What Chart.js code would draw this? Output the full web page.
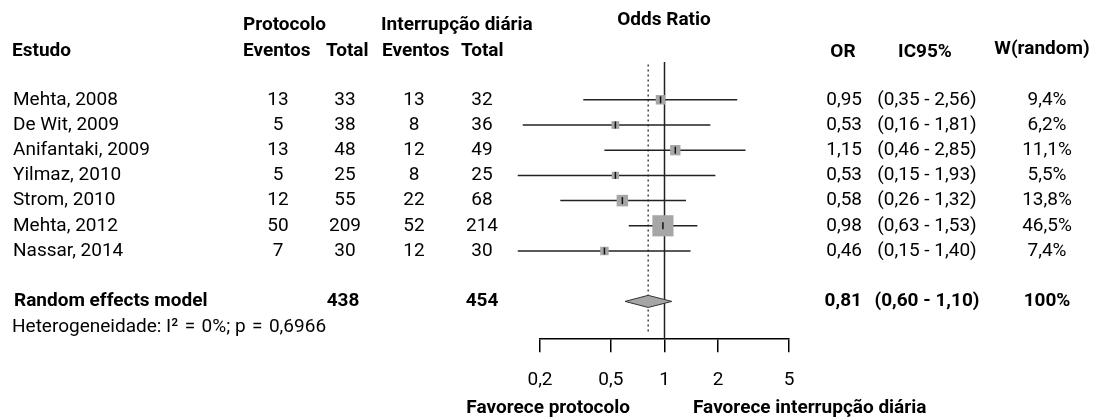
<!DOCTYPE html>
<html>
<head>
<meta charset="utf-8">
<script src="https://cdn.jsdelivr.net/npm/chart.js@4"></script>
<style>
  body { margin: 0; background: #fff; }
  canvas { display: block; }
</style>
</head>
<body>
<canvas id="forest" width="1094" height="420"></canvas>
<script>
const studies = ['Mehta, 2008', 'De Wit, 2009', 'Anifantaki, 2009', 'Yilmaz, 2010', 'Strom, 2010', 'Mehta, 2012', 'Nassar, 2014'];
const protEvents = [13, 5, 13, 5, 12, 50, 7];
const protTotal = [33, 38, 48, 25, 55, 209, 30];
const intEvents = [13, 8, 12, 8, 22, 52, 12];
const intTotal = [32, 36, 49, 25, 68, 214, 30];
const oddsRatio = [0.95, 0.53, 1.15, 0.53, 0.58, 0.98, 0.46];
const ciLow = [0.35, 0.16, 0.46, 0.15, 0.26, 0.63, 0.15];
const ciHigh = [2.56, 1.81, 2.85, 1.93, 1.32, 1.53, 1.40];
const weights = [9.4, 6.2, 11.1, 5.5, 13.8, 46.5, 7.4];

const pooledOR = 0.81;
const pooledLow = 0.60;
const pooledHigh = 1.10;
const pooledWeight = 100;
const totalProt = 438;
const totalInt = 454;
const heterogeneity = 'Heterogeneidade: I\u00B2\u2004=\u20040%; p\u2004=\u20040,6966';

const xTicks = [0.2, 0.5, 1, 2, 5];

const SUMMARY_ROW = 8;
const FONT = "Roboto, 'Liberation Sans', sans-serif";
const SIZE = 19;

const fmt = (v, d) => v.toFixed(d).replace('.', ',');

// one short line per study for the confidence interval
const ciSets = studies.map((s, i) => ({
  type: 'line',
  data: [{ x: ciLow[i], y: i }, { x: ciHigh[i], y: i }],
  borderColor: '#222',
  borderWidth: 1.5,
  pointRadius: 0,
  clip: false,
  order: 3
}));

// text columns around the plot
const tablePlugin = {
  id: 'table',
  afterDraw(chart) {
    const ctx = chart.ctx;
    const y = chart.scales.y;
    ctx.save();
    ctx.fillStyle = '#000';
    ctx.textBaseline = 'middle';

    const put = (txt, x, py, align, bold) => {
      ctx.font = (bold ? '700 ' : '400 ') + SIZE + 'px ' + FONT;
      ctx.textAlign = align;
      ctx.fillText(txt, x, py);
    };

    // headers
    put('Odds Ratio', 664, 20, 'center', true);
    put('Protocolo', 243, 25, 'left', true);
    put('Interrupção diária', 381, 25, 'left', true);
    put('Estudo', 12, 51, 'left', true);
    put('Eventos', 243, 51, 'left', true);
    put('Total', 326, 51, 'left', true);
    put('Eventos', 382, 51, 'left', true);
    put('Total', 461, 51, 'left', true);
    put('OR', 843, 52, 'center', true);
    put('IC95%', 925, 52, 'center', true);
    put('W(random)', 1042, 49, 'center', true);

    studies.forEach((s, i) => {
      const py = y.getPixelForValue(i);
      put(s, 13, py, 'left', false);
      put(String(protEvents[i]), 278, py, 'center', false);
      put(String(protTotal[i]), 345, py, 'center', false);
      put(String(intEvents[i]), 414, py, 'center', false);
      put(String(intTotal[i]), 482, py, 'center', false);
      put(fmt(oddsRatio[i], 2), 862, py, 'right', false);
      put('(' + fmt(ciLow[i], 2) + ' - ' + fmt(ciHigh[i], 2) + ')', 927, py, 'center', false);
      put(fmt(weights[i], 1) + '%', 1047, py, 'center', false);
    });

    const sy = y.getPixelForValue(SUMMARY_ROW);
    put('Random effects model', 14, sy, 'left', true);
    put(String(totalProt), 343, sy, 'center', true);
    put(String(totalInt), 482, sy, 'center', true);
    put(fmt(pooledOR, 2), 862, sy, 'right', true);
    put('(' + fmt(pooledLow, 2) + ' - ' + fmt(pooledHigh, 2) + ')', 927, sy, 'center', true);
    put(pooledWeight + '%', 1047, sy, 'center', true);
    put(heterogeneity, 12, 327, 'left', false);

    put('Favorece protocolo', 630, 408, 'right', true);
    put('Favorece interrupção diária', 693, 408, 'left', true);
    ctx.restore();
  }
};

new Chart(document.getElementById('forest'), {
  type: 'scatter',
  data: {
    datasets: [
      {
        type: 'line',
        data: [{ x: 1, y: -1.5 }, { x: 1, y: 9.5 }],
        borderColor: '#222',
        borderWidth: 1.5,
        pointRadius: 0,
        clip: false,
        order: 5
      },
      {
        type: 'line',
        data: [{ x: pooledOR, y: -1.4 }, { x: pooledOR, y: 9.3 }],
        borderColor: '#444',
        borderWidth: 1.5,
        borderDash: [2, 3],
        pointRadius: 0,
        clip: false,
        order: 4
      },
      ...ciSets,
      {
        // study squares, side grows with sqrt of weight
        data: oddsRatio.map((v, i) => ({ x: v, y: i })),
        pointStyle: 'rect',
        pointRadius: weights.map(w => 3.1 * Math.sqrt(w) / Math.SQRT2),
        backgroundColor: '#a6a6a6',
        borderWidth: 0,
        clip: false,
        order: 2
      },
      {
        data: oddsRatio.map((v, i) => ({ x: v, y: i })),
        pointStyle: 'line',
        rotation: 90,
        pointRadius: 3.5,
        borderColor: '#111',
        borderWidth: 1.5,
        clip: false,
        order: 1
      },
      {
        type: 'line',
        data: [
          { x: pooledLow, y: SUMMARY_ROW },
          { x: pooledOR, y: SUMMARY_ROW - 0.24 },
          { x: pooledHigh, y: SUMMARY_ROW },
          { x: pooledOR, y: SUMMARY_ROW + 0.24 },
          { x: pooledLow, y: SUMMARY_ROW }
        ],
        borderColor: '#333',
        borderWidth: 1,
        backgroundColor: '#a6a6a6',
        fill: 'shape',
        pointRadius: 0,
        tension: 0,
        clip: false,
        order: 0
      }
    ]
  },
  options: {
    responsive: false,
    animation: false,
    events: [],
    layout: { padding: { left: 540, right: 305, top: 62, bottom: 11 } },
    plugins: {
      legend: { display: false },
      tooltip: { enabled: false }
    },
    scales: {
      x: {
        type: 'logarithmic',
        min: 0.2,
        max: 5,
        afterBuildTicks: (scale) => {
          scale.ticks = xTicks.map(v => ({ value: v }));
        },
        ticks: {
          color: '#000',
          padding: 17,
          maxRotation: 0,
          autoSkip: false,
          font: { family: FONT, size: SIZE },
          callback: (v) => String(v).replace('.', ',')
        },
        grid: {
          drawOnChartArea: false,
          drawTicks: true,
          tickLength: 13,
          color: '#000',
          lineWidth: 1.5
        },
        border: { display: true, color: '#000', width: 1.5 }
      },
      y: {
        type: 'linear',
        min: -1.5,
        max: 9.5,
        reverse: true,
        display: false
      }
    }
  },
  plugins: [tablePlugin]
});
</script>
</body>
</html>
